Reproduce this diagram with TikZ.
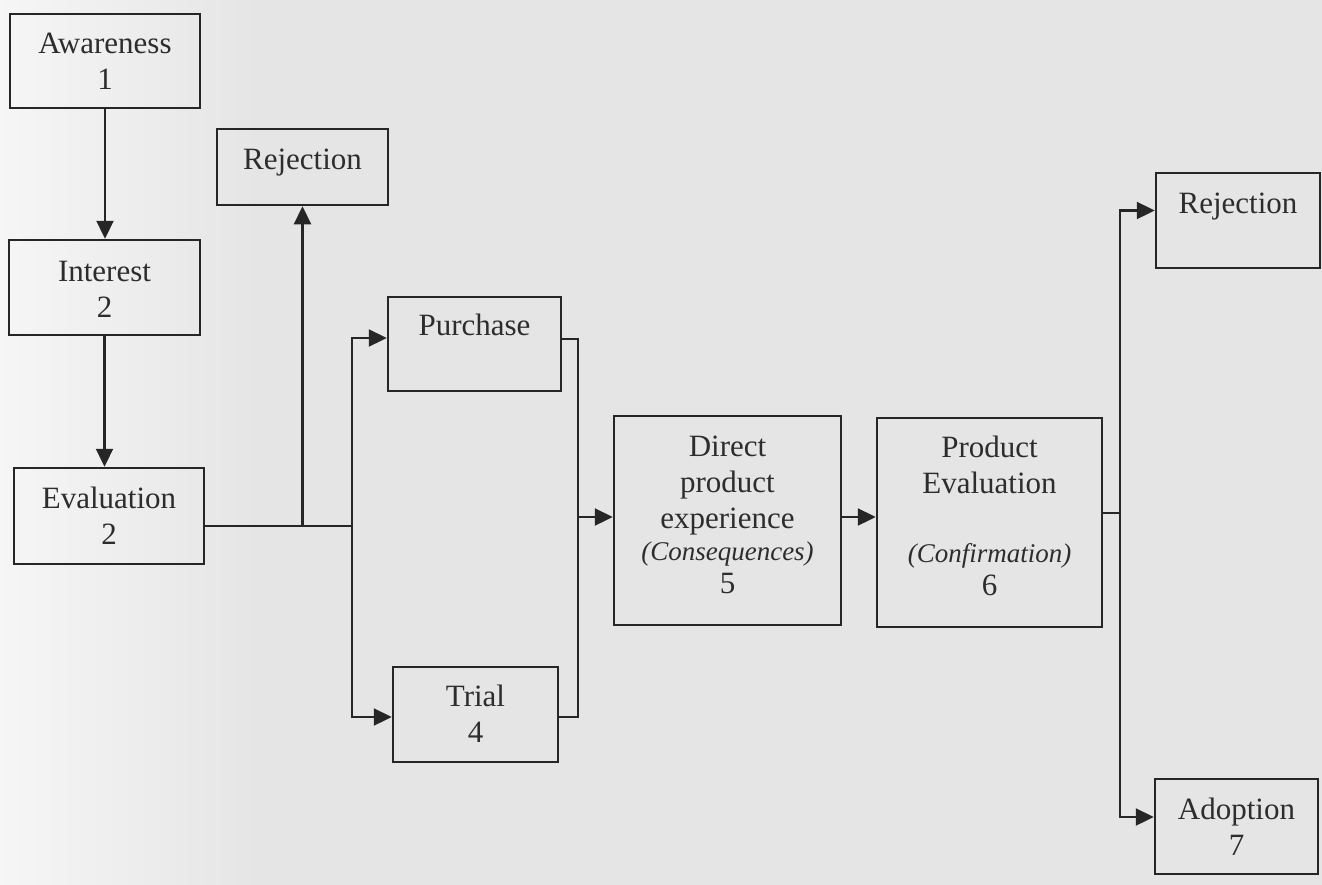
\documentclass[tikz,border=0pt]{standalone}
\usepackage{fontspec}
\setmainfont{Liberation Serif}
\usetikzlibrary{arrows.meta,calc}
\definecolor{bg}{RGB}{229,229,229}
\definecolor{bgl}{RGB}{246,246,246}
\definecolor{ink}{RGB}{38,38,38}
\definecolor{txtc}{RGB}{45,45,45}
\tikzset{
  box/.style={draw=ink, line width=2.5pt, rectangle, inner sep=0pt},
  lbl/.style={text=txtc, font=\fontsize{31}{36}\selectfont, align=center, anchor=base, inner sep=0pt},
  conn/.style={draw=ink, line width=2.3pt},
  arr/.style={conn, -{Triangle[length=18pt,width=17pt]}}
}
\newcommand{\itl}[1]{{\fontsize{27}{32}\selectfont\itshape #1}}
\begin{document}
\begin{tikzpicture}[x=1pt,y=-1pt]
\useasboundingbox (0,0) rectangle (1322,884);
\fill[bg] (-5,-5) rectangle (1327,889);
\shade[left color=bgl, right color=bg] (-5,-5) rectangle (260,889);

% boxes
\node[box, minimum width=190pt, minimum height=94pt] (aw) at (105,61) {};
\node[box, minimum width=191pt, minimum height=95pt] (in) at (104.5,287.5) {};
\node[box, minimum width=190pt, minimum height=96pt] (ev) at (109,516) {};
\node[box, minimum width=171pt, minimum height=76pt] (rej1) at (302.5,167) {};
\node[box, minimum width=173pt, minimum height=94pt] (pur) at (474.5,344) {};
\node[box, minimum width=165pt, minimum height=95pt] (tr) at (475.5,714.5) {};
\node[box, minimum width=227pt, minimum height=209pt] (dp) at (727.5,520.5) {};
\node[box, minimum width=225pt, minimum height=209pt] (pe) at (989.5,522.5) {};
\node[box, minimum width=164pt, minimum height=95pt] (rej2) at (1238,220.5) {};
\node[box, minimum width=163pt, minimum height=95pt] (ad) at (1236.5,826.5) {};

% labels (anchor = baseline of last line)
\node[lbl] (awt) at (105,89) {Awareness\\1};
\node[lbl] (int) at (104.5,317) {Interest\\2};
\node[lbl] (evt) at (109,544) {Evaluation\\2};
\node[lbl] (rej1t) at (302.5,169) {Rejection};
\node[lbl] (purt) at (474.5,335) {Purchase};
\node[lbl] (trt) at (475.5,742) {Trial\\4};
\node[lbl] (dpt) at (727.5,593) {Direct\\product\\experience\\[-4pt]\itl{(Consequences)}\\[-3pt]5};
\node[lbl] (pet) at (989.5,595) {Product\\Evaluation\\[33pt]\itl{(Confirmation)}\\[-3pt]6};
\node[lbl] (rej2t) at (1238,213) {Rejection};
\node[lbl] (adt) at (1236.5,855) {Adoption\\7};

% connectors
\coordinate (j2) at (352,526);
\coordinate (j1) at (rej1.south |- j2);
\coordinate (k) at (578,517);
\coordinate (m) at (1120,513);

\draw[arr] (aw.south) -- (aw.south |- in.north);
\draw[arr] (in.south) -- (in.south |- ev.north);
\draw[conn] (ev.east |- j2) -- (j2);
\draw[arr] (j1) -- (rej1.south);
\draw[arr] (j2) |- ($(pur.west)+(0,-6)$);
\draw[arr] (j2) |- ($(tr.west)+(0,2.5)$);
\draw[conn] ($(pur.east)+(0,-5)$) -| (k);
\draw[conn] ($(tr.east)+(0,2.5)$) -| (k);
\draw[arr] (k) -- (k -| dp.west);
\draw[arr] (dp.east |- k) -- (pe.west |- k);
\draw[conn] (pe.east |- m) -- (m);
\draw[arr] (m) |- ($(rej2.west)+(0,-10)$);
\draw[arr] (m) |- ($(ad.west)+(0,-9.5)$);
\end{tikzpicture}
\end{document}
